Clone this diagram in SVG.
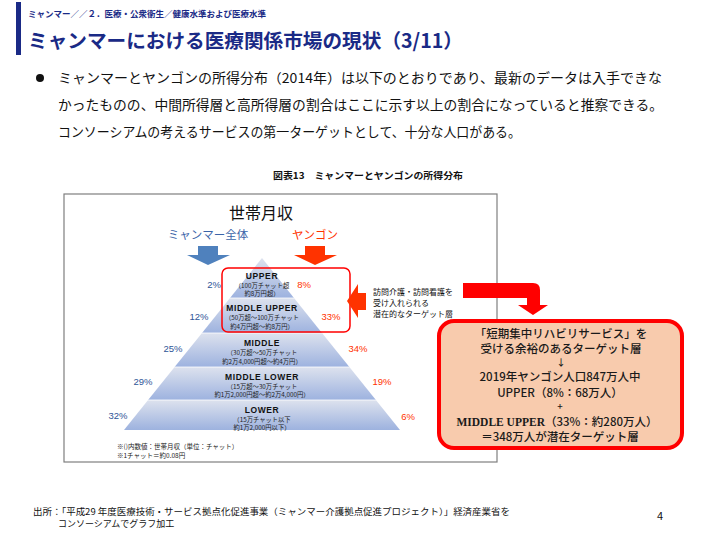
<svg xmlns="http://www.w3.org/2000/svg" width="720" height="540" viewBox="0 0 720 540">
<defs>
<style>
.jp{font-family:"Noto Sans CJK JP","Liberation Sans",sans-serif;}
.navy{fill:#1a2a86;}
.bd{font-weight:bold;}
.lvl{font-family:"Liberation Sans","Noto Sans CJK JP",sans-serif;font-weight:bold;font-size:8.5px;fill:#111;text-anchor:middle;letter-spacing:0.6px;}
.sub{font-family:"Noto Sans CJK JP",sans-serif;font-size:6.3px;fill:#222;text-anchor:middle;}
.pl{font-family:"Liberation Sans",sans-serif;font-size:9.5px;fill:#2f5597;text-anchor:middle;}
.pr{font-family:"Liberation Sans",sans-serif;font-size:9.5px;fill:#ff3300;text-anchor:middle;}
.box{font-family:"Noto Sans CJK JP",sans-serif;font-size:11.5px;font-weight:500;fill:#1a1a1a;text-anchor:middle;}
.sym{font-family:"Noto Sans CJK JP",sans-serif;font-size:9.5px;font-weight:500;fill:#1a1a1a;text-anchor:middle;}
</style>
<linearGradient id="band" x1="0" y1="0" x2="0" y2="1">
<stop offset="0" stop-color="#dde2ee"/>
<stop offset="1" stop-color="#9db2df"/>
</linearGradient>
</defs>
<rect width="720" height="540" fill="#ffffff"/>

<g id="header">
<rect x="16" y="2" width="5" height="53" fill="#1a2a86"/>
<text x="28" y="17" class="jp navy bd" font-size="8.5">ミャンマー／／２．医療・公衆衛生／健康水準および医療水準</text>
<text x="28" y="48" class="jp navy bd" font-size="19.5" textLength="435" lengthAdjust="spacingAndGlyphs">ミャンマーにおける医療関係市場の現状（3/11）</text>
</g>

<g id="body">
<circle cx="40" cy="78" r="4" fill="#111"/>
<text x="58" y="83" class="jp" font-size="13.5" fill="#111" textLength="604" lengthAdjust="spacingAndGlyphs">ミャンマーとヤンゴンの所得分布（2014年）は以下のとおりであり、最新のデータは入手できな</text>
<text x="58" y="110" class="jp" font-size="13.5" fill="#111" textLength="605" lengthAdjust="spacingAndGlyphs">かったものの、中間所得層と高所得層の割合はここに示す以上の割合になっていると推察できる。</text>
<text x="58" y="137" class="jp" font-size="13.5" fill="#111" textLength="463" lengthAdjust="spacingAndGlyphs">コンソーシアムの考えるサービスの第一ターゲットとして、十分な人口がある。</text>
<text x="273" y="179" class="jp bd" font-size="9.5" fill="#111" textLength="190" lengthAdjust="spacingAndGlyphs">図表13　ミャンマーとヤンゴンの所得分布</text>
</g>

<g id="frame">
<rect x="64" y="194" width="433" height="268" fill="#ffffff" stroke="#7f7f7f" stroke-width="1.2"/>
</g>

<g id="heads">
<text x="261" y="219" class="jp" font-size="16" fill="#111" text-anchor="middle">世帯月収</text>
<text x="208" y="239" class="jp" font-size="11.5" fill="#3b64a8" text-anchor="middle">ミャンマー全体</text>
<text x="315" y="239" class="jp" font-size="11.5" fill="#ff3300" text-anchor="middle">ヤンゴン</text>
<polygon points="198,246 218,246 218,255 230,255 208,265 187,255 198,255" fill="#4f81bd"/>
<polygon points="305,246 325,246 325,255 337,255 315,265 294,255 305,255" fill="#ff3300"/>
</g>

<g id="pyramid">
<polygon points="262,258 294,298 230,298" fill="url(#band)"/>
<polygon points="230,298 294,298 322,333 202,333" fill="url(#band)"/>
<polygon points="202,333 322,333 349.4,367 174.6,367" fill="url(#band)"/>
<polygon points="174.6,367 349.4,367 375.9,400 148.1,400" fill="url(#band)"/>
<polygon points="148.1,400 375.9,400 400,430 124,430" fill="url(#band)"/>
<g stroke="#ffffff" stroke-width="0.8">
<line x1="230" y1="298" x2="294" y2="298"/>
<line x1="202" y1="333" x2="322" y2="333"/>
<line x1="174.6" y1="367" x2="349.4" y2="367"/>
<line x1="148.1" y1="400" x2="375.9" y2="400"/>
</g>
<text x="262" y="279" class="lvl">UPPER</text>
<text x="262" y="288" class="sub">（100万チャット超</text>
<text x="262" y="296" class="sub">約8万円超）</text>
<text x="262" y="311" class="lvl">MIDDLE UPPER</text>
<text x="262" y="320" class="sub">（50万超〜100万チャット</text>
<text x="262" y="328.5" class="sub">約4万円超〜約8万円）</text>
<text x="262" y="346" class="lvl">MIDDLE</text>
<text x="262" y="355" class="sub">（30万超〜50万チャット</text>
<text x="262" y="363.5" class="sub">約2万4,000円超〜約4万円）</text>
<text x="262" y="380" class="lvl">MIDDLE LOWER</text>
<text x="262" y="389" class="sub">（15万超〜30万チャット</text>
<text x="262" y="397" class="sub">約1万2,000円超〜約2万4,000円）</text>
<text x="262" y="413" class="lvl">LOWER</text>
<text x="262" y="422" class="sub">（15万チャット以下</text>
<text x="262" y="430" class="sub">約1万2,000円以下）</text>
<text x="214" y="288" class="pl">2%</text>
<text x="199" y="320" class="pl">12%</text>
<text x="173" y="352" class="pl">25%</text>
<text x="143" y="385" class="pl">29%</text>
<text x="118" y="419" class="pl">32%</text>
<text x="304" y="288" class="pr">8%</text>
<text x="331" y="320" class="pr">33%</text>
<text x="358" y="352" class="pr">34%</text>
<text x="382" y="385" class="pr">19%</text>
<text x="408" y="420" class="pr">6%</text>
<text x="117" y="449" class="jp" font-size="6.5" fill="#222">※()内数値：世帯月収（単位：チャット）</text>
<text x="117" y="458" class="jp" font-size="6.5" fill="#222">※1チャット＝約0.08円</text>
</g>

<g id="highlight">
<rect x="222" y="268" width="128" height="64" rx="6" fill="none" stroke="#ff0000" stroke-width="1.5"/>
</g>

<g id="connectors">
<polygon points="347,301 358,284 358,293 366,293 366,310 358,310 358,318" fill="#ff3300"/>
<path d="M463,283 H533 Q540,283 540,290 V305 H548 L533,315 L518,305 H527 V298 H463 Z" fill="#ff0000"/>
</g>

<g id="note">
<text x="373" y="295" class="jp" font-size="8" fill="#111">訪問介護・訪問看護を</text>
<text x="373" y="306" class="jp" font-size="8" fill="#111">受け入れられる</text>
<text x="373" y="317" class="jp" font-size="8" fill="#111">潜在的なターゲット層</text>
</g>

<g id="target-box">
<rect x="439" y="321" width="243" height="127" rx="15" fill="#f8cbad" stroke="#ff0000" stroke-width="4"/>
<text x="561" y="338" class="box">「短期集中リハビリサービス」を</text>
<text x="561" y="353" class="box">受ける余裕のあるターゲット層</text>
<text x="561" y="366" class="sym">↓</text>
<text x="560" y="381" class="box">2019年ヤンゴン人口847万人中</text>
<text x="560" y="397" class="box">UPPER（8%：68万人）</text>
<text x="560" y="410" class="sym">+</text>
<text x="557" y="426" class="box"><tspan font-family="Liberation Serif,serif" font-weight="bold">MIDDLE UPPER</tspan>（33%：約280万人）</text>
<text x="560" y="441" class="box">＝348万人が潜在ターゲット層</text>
</g>

<g id="footer">
<text x="33" y="515" class="jp" font-size="9" fill="#111" textLength="477" lengthAdjust="spacingAndGlyphs">出所：「平成29 年度医療技術・サービス拠点化促進事業（ミャンマー介護拠点促進プロジェクト）」経済産業省を</text>
<text x="58" y="527" class="jp" font-size="9" fill="#111">コンソーシアムでグラフ加工</text>
<text x="657" y="520" class="jp" font-size="11" fill="#111">4</text>
</g>
</svg>
